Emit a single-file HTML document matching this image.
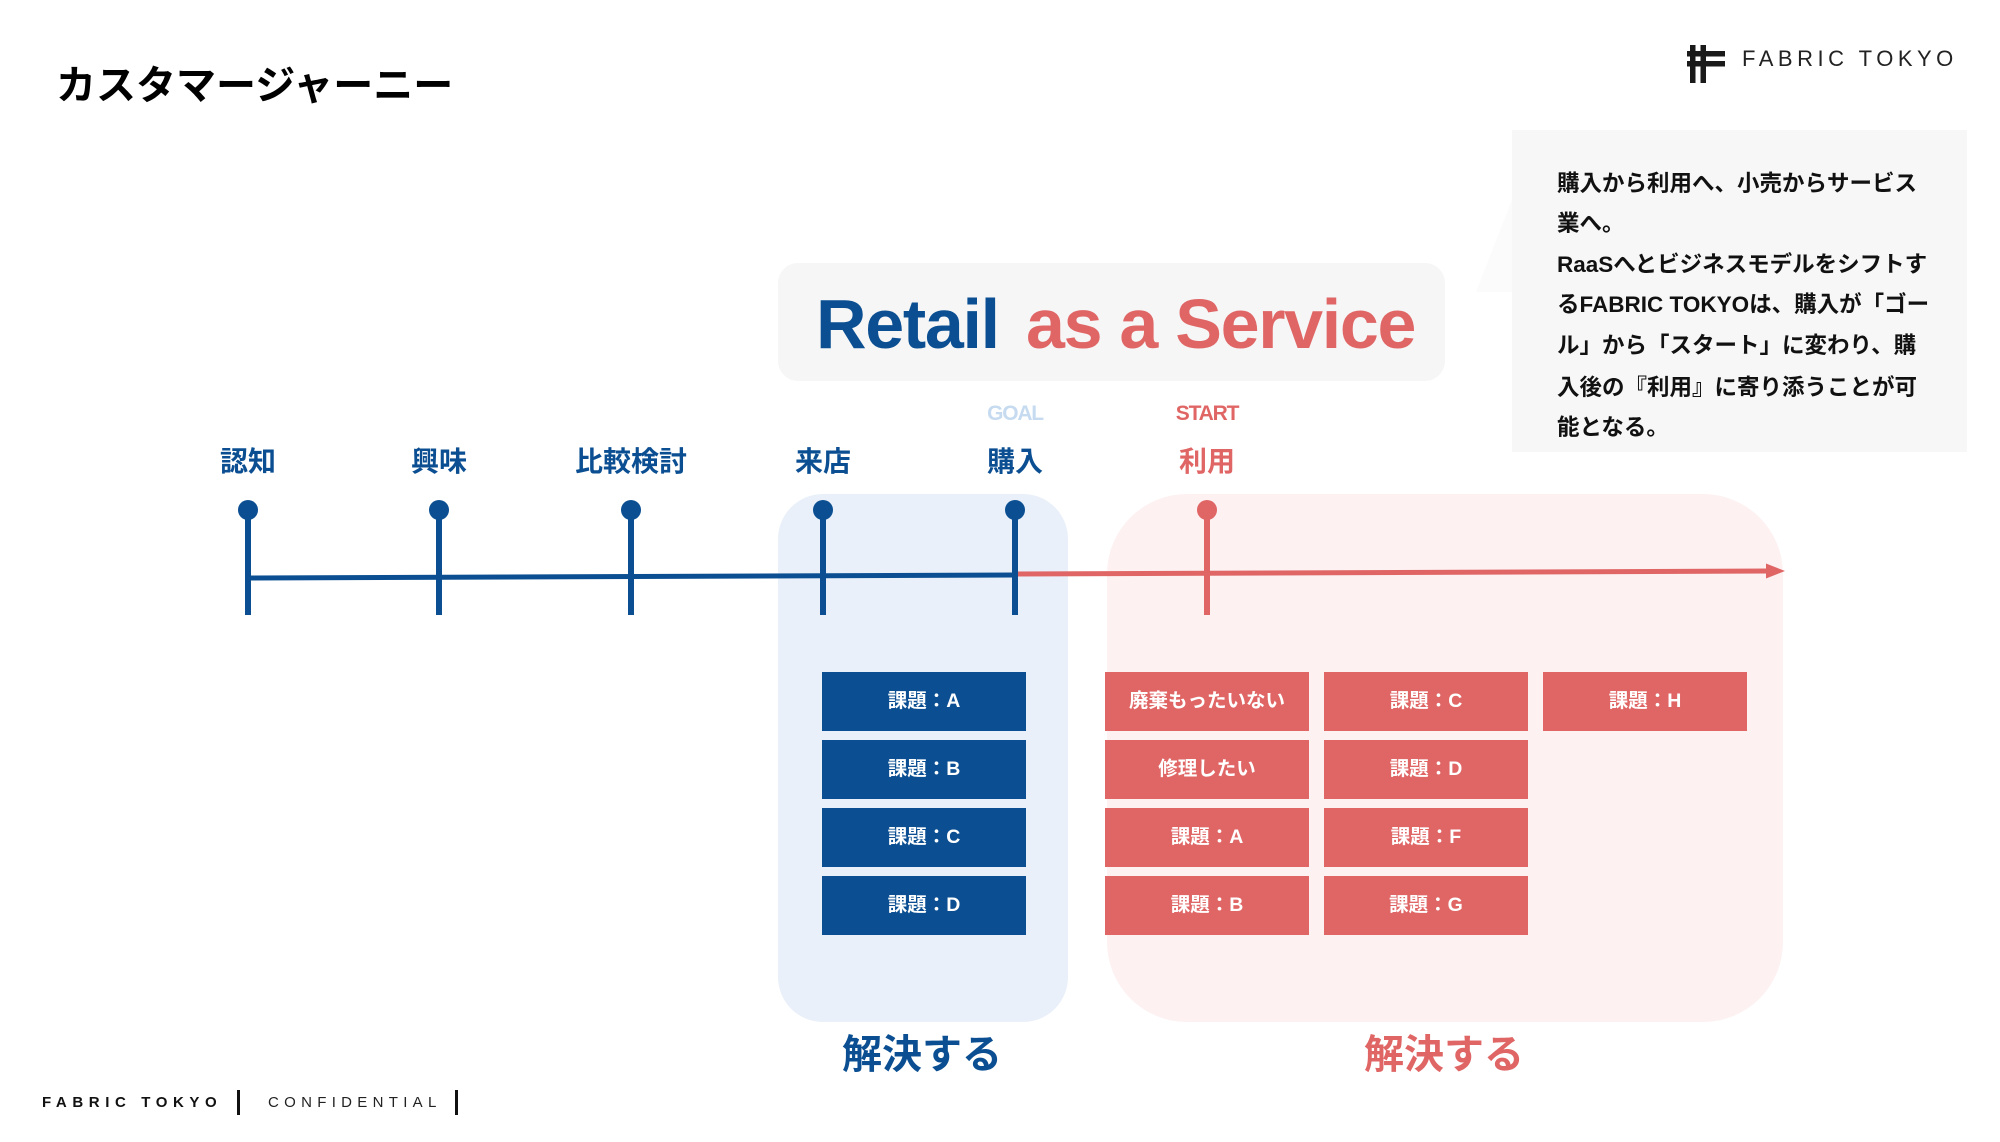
<!DOCTYPE html>
<html>
<head>
<meta charset="utf-8">
<style>
  html,body{margin:0;padding:0;background:#fff;}
  body{width:2000px;height:1142px;position:relative;overflow:hidden;
       font-family:"Liberation Sans","Noto Sans CJK JP",sans-serif;}
  .a{position:absolute;white-space:nowrap;line-height:1;}
  .lbl{position:absolute;width:200px;text-align:center;font-size:28px;font-weight:700;line-height:1;color:#0b4f92;}
  .box{position:absolute;width:204px;height:59px;display:flex;align-items:center;justify-content:center;
       color:#fff;font-weight:700;font-size:19.5px;line-height:1;}
  .bl{background:#0b4f92;}
  .rd{background:#e06666;}
  .cl{position:absolute;left:1557px;font-size:22.5px;font-weight:700;line-height:1;white-space:nowrap;color:#111;}
</style>
</head>
<body>

<svg width="2000" height="1142" style="position:absolute;left:0;top:0" xmlns="http://www.w3.org/2000/svg">
  <!-- callout tail -->
  <polygon points="1476,292 1512,200 1512,292" fill="#fbfbfb"/>
  <!-- callout box -->
  <rect x="1512" y="130" width="455" height="322" fill="#f7f7f7"/>
  <!-- Retail box -->
  <rect x="778" y="263" width="667" height="118" rx="20" ry="20" fill="#f6f6f6"/>
  <!-- background areas -->
  <rect x="778" y="494" width="290" height="528" rx="45" ry="45" fill="#e9f0f9"/>
  <rect x="1107" y="494" width="676" height="528" rx="80" ry="80" fill="#fdf1f2"/>

  <!-- timeline lines -->
  <line x1="248" y1="578" x2="1015" y2="575" stroke="#0b4f92" stroke-width="5"/>
  <line x1="1015" y1="574" x2="1770" y2="571" stroke="#e06666" stroke-width="5"/>
  <polygon points="1766,563.5 1785,571 1766,578.5" fill="#e06666"/>

  <!-- ticks -->
  <g fill="#0b4f92">
    <rect x="245" y="510" width="6" height="105"/><circle cx="248" cy="510" r="10"/>
    <rect x="436" y="510" width="6" height="105"/><circle cx="439" cy="510" r="10"/>
    <rect x="628" y="510" width="6" height="105"/><circle cx="631" cy="510" r="10"/>
    <rect x="820" y="510" width="6" height="105"/><circle cx="823" cy="510" r="10"/>
    <rect x="1012" y="510" width="6" height="105"/><circle cx="1015" cy="510" r="10"/>
  </g>
  <g fill="#e06666">
    <rect x="1204" y="510" width="6" height="105"/><circle cx="1207" cy="510" r="10"/>
  </g>

  <!-- logo icon -->
  <g fill="#1a1a1a">
    <rect x="1690" y="45" width="5.5" height="38"/>
    <rect x="1700.5" y="45" width="5.5" height="38"/>
    <rect x="1687" y="51" width="38" height="5.5"/>
    <rect x="1687" y="61" width="38" height="5.5"/>
  </g>

  <!-- footer bars -->
  <rect x="237" y="1090" width="3" height="25" fill="#111"/>
  <rect x="455" y="1090" width="3" height="25" fill="#111"/>
</svg>

<!-- title -->
<div class="a" style="left:56px;top:66px;font-size:40px;font-weight:700;color:#000;">カスタマージャーニー</div>

<!-- logo text -->
<div class="a" style="left:1742px;top:48px;font-size:22px;letter-spacing:4.5px;color:#222;">FABRIC TOKYO</div>

<!-- callout text -->
<div class="cl" style="top:173px;">購入から利用へ、小売からサービス</div>
<div class="cl" style="top:213px;">業へ。</div>
<div class="cl" style="top:254px;">RaaSへとビジネスモデルをシフトす</div>
<div class="cl" style="top:294px;">るFABRIC TOKYOは、購入が「ゴー</div>
<div class="cl" style="top:335px;">ル」から「スタート」に変わり、購</div>
<div class="cl" style="top:377px;">入後の『利用』に寄り添うことが可</div>
<div class="cl" style="top:417px;">能となる。</div>

<!-- Retail as a Service -->
<div class="a" style="left:816px;top:289px;font-size:70px;font-weight:700;letter-spacing:-1.3px;color:#0b4f92;">Retail</div>
<div class="a" style="left:1026px;top:289px;font-size:70px;font-weight:700;letter-spacing:-1.3px;color:#e06666;">as a Service</div>

<!-- GOAL / START -->
<div class="a" style="left:915px;width:200px;text-align:center;top:403px;font-size:21px;font-weight:700;letter-spacing:-1.2px;color:#c6dbf0;">GOAL</div>
<div class="a" style="left:1107px;width:200px;text-align:center;top:403px;font-size:21px;font-weight:700;letter-spacing:-1.2px;color:#e06666;">START</div>

<!-- stage labels -->
<div class="lbl" style="left:148px;top:448px;">認知</div>
<div class="lbl" style="left:339px;top:448px;">興味</div>
<div class="lbl" style="left:531px;top:448px;">比較検討</div>
<div class="lbl" style="left:723px;top:448px;">来店</div>
<div class="lbl" style="left:915px;top:448px;">購入</div>
<div class="lbl" style="left:1107px;top:448px;color:#e06666;">利用</div>

<!-- blue issue boxes -->
<div class="box bl" style="left:822px;top:672px;">課題：A</div>
<div class="box bl" style="left:822px;top:740px;">課題：B</div>
<div class="box bl" style="left:822px;top:808px;">課題：C</div>
<div class="box bl" style="left:822px;top:876px;">課題：D</div>

<!-- red issue boxes -->
<div class="box rd" style="left:1105px;top:672px;">廃棄もったいない</div>
<div class="box rd" style="left:1105px;top:740px;">修理したい</div>
<div class="box rd" style="left:1105px;top:808px;">課題：A</div>
<div class="box rd" style="left:1105px;top:876px;">課題：B</div>

<div class="box rd" style="left:1324px;top:672px;">課題：C</div>
<div class="box rd" style="left:1324px;top:740px;">課題：D</div>
<div class="box rd" style="left:1324px;top:808px;">課題：F</div>
<div class="box rd" style="left:1324px;top:876px;">課題：G</div>

<div class="box rd" style="left:1543px;top:672px;">課題：H</div>

<!-- 解決する -->
<div class="a" style="left:772px;width:300px;text-align:center;top:1035px;font-size:40px;font-weight:700;color:#0b4f92;">解決する</div>
<div class="a" style="left:1294px;width:300px;text-align:center;top:1035px;font-size:40px;font-weight:700;color:#e06666;">解決する</div>

<!-- footer -->
<div class="a" style="left:42px;top:1095px;font-size:15px;font-weight:700;letter-spacing:5.6px;color:#111;">FABRIC TOKYO</div>
<div class="a" style="left:268px;top:1095px;font-size:15px;letter-spacing:5.3px;color:#222;">CONFIDENTIAL</div>

</body>
</html>
